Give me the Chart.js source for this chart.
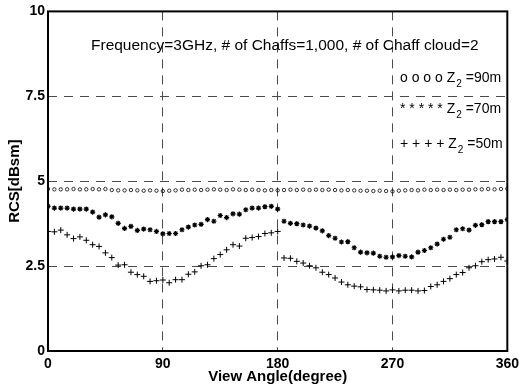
<!DOCTYPE html>
<html>
<head>
<meta charset="utf-8">
<script src="https://cdn.jsdelivr.net/npm/chart.js@4.4.1/dist/chart.umd.min.js"></script>
<style>
  html, body { margin: 0; padding: 0; background: #fff; }
  #rcsChart { display: block; }
</style>
</head>
<body>
<canvas id="rcsChart" width="524" height="389"></canvas>
<script>
// ── 데이터: 관측각 0~360 (5도 간격)
const ANGLES = [
  0, 5, 10, 15, 20, 25, 30, 35, 40, 45, 50, 55, 60, 65, 70, 75, 80, 85, 90,
  95, 100, 105, 110, 115, 120, 125, 130, 135, 140, 145, 150, 155, 160, 165, 170, 175, 180,
  185, 190, 195, 200, 205, 210, 215, 220, 225, 230, 235, 240, 245, 250, 255, 260, 265, 270,
  275, 280, 285, 290, 295, 300, 305, 310, 315, 320, 325, 330, 335, 340, 345, 350, 355, 360
];

// Z2 = 90m (o)
const RCS_90M = [
  4.77, 4.76, 4.76, 4.76, 4.77, 4.76, 4.76, 4.77, 4.76, 4.77, 4.74, 4.73, 4.73, 4.74, 4.73, 4.72, 4.73, 4.72, 4.71,
  4.72, 4.73, 4.75, 4.74, 4.75, 4.74, 4.75, 4.76, 4.75, 4.74, 4.76, 4.75, 4.74, 4.75, 4.74, 4.73, 4.74, 4.73,
  4.74, 4.75, 4.74, 4.75, 4.74, 4.75, 4.74, 4.75, 4.74, 4.73, 4.74, 4.73, 4.72, 4.72, 4.71, 4.72, 4.71, 4.70,
  4.72, 4.73, 4.74, 4.73, 4.75, 4.74, 4.75, 4.74, 4.75, 4.74, 4.75, 4.75, 4.76, 4.76, 4.77, 4.76, 4.77, 4.78
];

// Z2 = 70m (*)
const RCS_70M = [
  4.26, 4.21, 4.21, 4.21, 4.18, 4.18, 4.18, 4.09, 3.94, 4.01, 3.95, 3.76, 3.61, 3.67, 3.55, 3.59, 3.57, 3.52, 3.45,
  3.46, 3.46, 3.57, 3.65, 3.71, 3.73, 3.87, 3.82, 3.99, 3.93, 4.04, 4.03, 4.16, 4.21, 4.21, 4.25, 4.26, 4.18,
  3.82, 3.76, 3.75, 3.71, 3.68, 3.62, 3.54, 3.40, 3.32, 3.21, 3.22, 3.04, 2.91, 2.89, 2.88, 2.79, 2.76, 2.77,
  2.81, 2.79, 2.77, 2.91, 2.96, 3.04, 3.15, 3.29, 3.35, 3.57, 3.60, 3.56, 3.70, 3.72, 3.81, 3.81, 3.81, 3.87
];

// Z2 = 50m (+)
const RCS_50M = [
  3.52, 3.51, 3.56, 3.42, 3.31, 3.36, 3.26, 3.13, 3.08, 2.89, 2.75, 2.53, 2.54, 2.32, 2.25, 2.20, 2.05, 2.07, 2.09,
  2.01, 2.10, 2.10, 2.26, 2.33, 2.51, 2.54, 2.72, 2.84, 2.98, 3.13, 3.09, 3.32, 3.34, 3.37, 3.46, 3.48, 3.52,
  2.74, 2.73, 2.64, 2.59, 2.51, 2.45, 2.32, 2.25, 2.15, 2.03, 1.95, 1.91, 1.89, 1.81, 1.80, 1.79, 1.77, 1.80,
  1.77, 1.79, 1.79, 1.77, 1.78, 1.90, 1.95, 2.05, 2.13, 2.25, 2.31, 2.45, 2.51, 2.63, 2.69, 2.71, 2.76, 2.65
];

const X_TICKS = [0, 90, 180, 270, 360];
const Y_TICKS = [0, 2.5, 5, 7.5, 10];

const INFO_TEXT = 'Frequency=3GHz, # of Chaffs=1,000, # of Chaff cloud=2';
const LEGEND_ROWS = [
  { mark: 'o o o o ', dist: '=90m' },
  { mark: '* * * * * ', dist: '=70m' },
  { mark: '+ + + + ', dist: '=50m' }
];

const FONT = "Arial, 'Liberation Sans', sans-serif";
const GRID_DASH = [9, 7];
const GRID_COLOR = '#4a4a4a';

const toPoints = arr => arr.map((v, i) => ({ x: ANGLES[i], y: v }));

// ── 축 박스 + 주석 텍스트 (MATLAB 스타일)
const boxAndNotes = {
  id: 'boxAndNotes',
  afterDraw(chart) {
    const { ctx, chartArea: a } = chart;
    ctx.save();
    ctx.strokeStyle = '#000';
    ctx.lineWidth = 2;
    ctx.strokeRect(a.left, a.top, a.right - a.left, a.bottom - a.top);

    ctx.fillStyle = '#000';
    ctx.textBaseline = 'alphabetic';
    ctx.textAlign = 'left';
    ctx.font = `15.5px ${FONT}`;
    ctx.fillText(INFO_TEXT, 91, 50);

    const baselines = [82, 113, 148];
    LEGEND_ROWS.forEach((row, i) => {
      let x = 400;
      const y = baselines[i];
      ctx.font = `14px ${FONT}`;
      ctx.fillText(row.mark + 'Z', x, y);
      x += ctx.measureText(row.mark + 'Z').width + 1;
      ctx.font = `10px ${FONT}`;
      ctx.fillText('2', x, y + 5);
      x += ctx.measureText('2').width;
      ctx.font = `14px ${FONT}`;
      ctx.fillText(' ' + row.dist, x, y);
    });
    ctx.restore();
  }
};

// 가장자리(0, max) 그리드는 박스가 대신 그림
const edgeless = (lo, hi) => c =>
  (c.tick && (c.tick.value === lo || c.tick.value === hi)) ? 'rgba(0,0,0,0)' : GRID_COLOR;

new Chart(document.getElementById('rcsChart'), {
  type: 'scatter',
  data: {
    datasets: [
      {
        label: 'Z2 =90m',
        data: toPoints(RCS_90M),
        pointStyle: 'circle',
        pointRadius: 1.7,
        borderWidth: 0.8,
        borderColor: '#000',
        backgroundColor: 'rgba(0,0,0,0)'
      },
      {
        label: 'Z2 =70m',
        data: toPoints(RCS_70M),
        pointStyle: 'star',
        pointRadius: 2.6,
        borderWidth: 1.2,
        borderColor: '#000',
        backgroundColor: '#000'
      },
      {
        label: 'Z2 =50m',
        data: toPoints(RCS_50M),
        pointStyle: 'cross',
        pointRadius: 3,
        borderWidth: 1,
        borderColor: '#000',
        backgroundColor: '#000'
      }
    ]
  },
  options: {
    responsive: false,
    animation: false,
    showLine: false,
    layout: { padding: { left: 0, right: 12, top: 11, bottom: 0 } },
    plugins: {
      legend: { display: false },
      tooltip: { enabled: false }
    },
    scales: {
      x: {
        type: 'linear',
        min: 0,
        max: 360,
        afterBuildTicks: s => { s.ticks = X_TICKS.map(v => ({ value: v })); },
        afterFit: s => { s.height = 38; },
        ticks: { color: '#000', padding: 5, font: { family: FONT, size: 14, weight: 'bold' } },
        grid: { color: edgeless(0, 360), drawTicks: false, lineWidth: 1 },
        border: { display: false, dash: GRID_DASH },
        title: {
          display: true,
          text: 'View Angle(degree)',
          color: '#000',
          font: { family: FONT, size: 15, weight: 'bold' },
          padding: { top: 0, bottom: 3 }
        }
      },
      y: {
        type: 'linear',
        min: 0,
        max: 10,
        afterBuildTicks: s => { s.ticks = Y_TICKS.map(v => ({ value: v })); },
        afterFit: s => { s.width = 48; },
        ticks: { color: '#000', padding: 3, font: { family: FONT, size: 14, weight: 'bold' } },
        grid: { color: edgeless(0, 10), drawTicks: false, lineWidth: 1 },
        border: { display: false, dash: GRID_DASH },
        title: {
          display: true,
          text: 'RCS[dBsm]',
          color: '#000',
          font: { family: FONT, size: 15, weight: 'bold' },
          padding: { top: 6, bottom: 0 }
        }
      }
    }
  },
  plugins: [boxAndNotes]
});
</script>
</body>
</html>
